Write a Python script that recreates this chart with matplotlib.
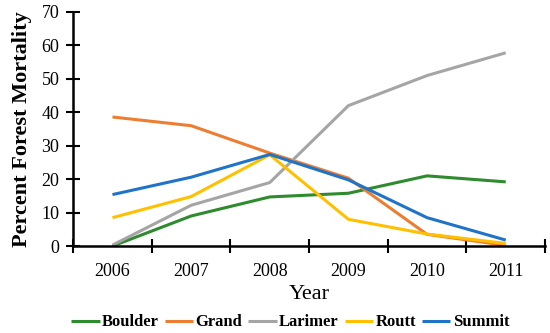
import matplotlib.pyplot as plt
import numpy as np

# DATA
years = ["2006", "2007", "2008", "2009", "2010", "2011"]
boulder = [0.0, 9.0, 14.7, 15.8, 21.0, 19.2]
grand = [38.6, 36.0, 27.8, 20.3, 3.5, 0.2]
larimer = [0.3, 12.2, 19.0, 42.0, 51.0, 57.8]
routt = [8.5, 14.8, 27.3, 8.0, 3.6, 0.8]
summit = [15.4, 20.6, 27.4, 19.8, 8.5, 1.8]

series = [("Boulder", boulder, "#2E8B2E"),
          ("Grand", grand, "#ED7D31"),
          ("Larimer", larimer, "#A5A5A5"),
          ("Routt", routt, "#FFC000"),
          ("Summit", summit, "#1F74C8")]

plt.rcParams['font.family'] = ['Liberation Serif']

fig = plt.figure(figsize=(5.5, 3.33), dpi=100)
ax = fig.add_axes([0.133, 0.261, 0.858, 0.703])

x = np.arange(len(years))
for name, vals, col in series:
    ax.plot(x, vals, color=col, lw=2.2, label=name, solid_capstyle='butt')

ax.set_xlim(-0.5, len(years) - 0.5)
ax.set_ylim(0, 70)
ax.set_yticks(range(0, 71, 10))
ax.set_xticks(np.arange(-0.5, len(years), 1.0))
ax.set_xticklabels([])
ax.set_xticks(x, minor=True)
ax.set_xticklabels(years, minor=True)
ax.tick_params(axis='x', which='minor', length=0, labelsize=13, pad=12)
ax.tick_params(axis='x', which='major', direction='inout', length=10, width=1.5)
ax.tick_params(axis='y', direction='inout', length=10, width=1.5, labelsize=13, pad=5)

for s in ['top', 'right']:
    ax.spines[s].set_visible(False)
for s in ['left', 'bottom']:
    ax.spines[s].set_linewidth(1.8)

ax.set_ylabel("Percent Forest Mortality", fontsize=16, fontweight='bold', labelpad=7)
ax.set_xlabel("Year", fontsize=16, labelpad=4)

ax.legend(loc='upper center', bbox_to_anchor=(0.46, -0.285), ncol=5, frameon=False,
          prop={'weight': 'bold', 'size': 12}, handlelength=1.7, handletextpad=0.15,
          columnspacing=0.35, borderaxespad=0, borderpad=0.1)

plt.savefig("out.png", dpi=100)
